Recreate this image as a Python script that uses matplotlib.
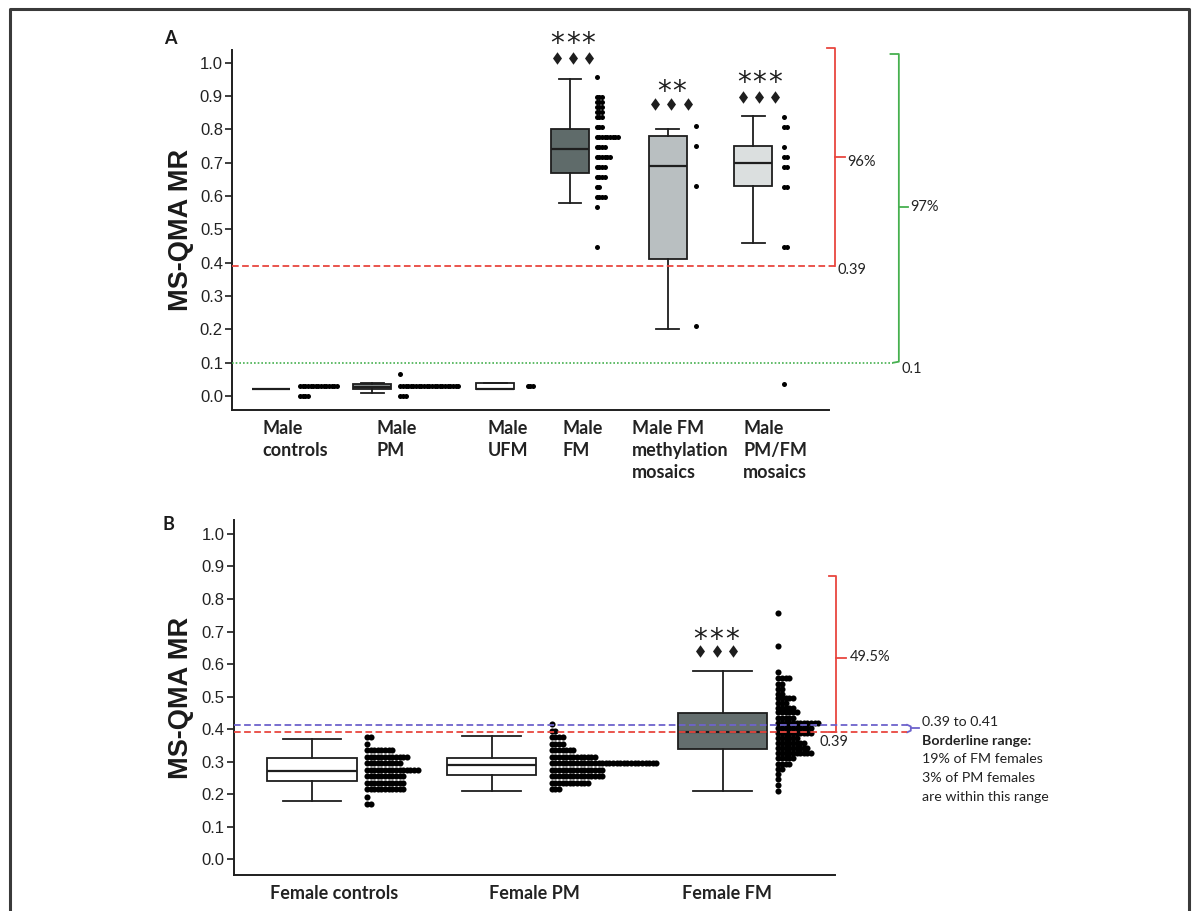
import matplotlib
matplotlib.use('Agg')
import matplotlib.pyplot as plt
import matplotlib.transforms as mtransforms
from matplotlib.lines import Line2D
import numpy as np

# ------------------------- DATA -------------------------
male_labels = ['Male\ncontrols', 'Male\nPM', 'Male\nUFM', 'Male\nFM',
               'Male FM\nmethylation\nmosaics', 'Male\nPM/FM\nmosaics']
male_q1 = [0.02, 0.02, 0.02, 0.67, 0.41, 0.63]
male_med = [0.02, 0.027, 0.02, 0.74, 0.69, 0.70]
male_q3 = [0.02, 0.035, 0.04, 0.80, 0.78, 0.75]
male_whislo = [0.02, 0.01, 0.02, 0.58, 0.20, 0.46]
male_whishi = [0.02, 0.04, 0.04, 0.95, 0.80, 0.84]
male_stars = ['', '', '', '***', '**', '***']
male_diamonds = [0, 0, 0, 3, 3, 3]

# individual samples (value rows and number of samples in each row)
m_ctrl_vals = [0.03, 0.0]
m_ctrl_counts = [15, 4]
m_pm_vals = [0.066, 0.03, 0.0]
m_pm_counts = [1, 23, 3]
m_ufm_vals = [0.03]
m_ufm_counts = [3]
m_fm_vals = [0.956, 0.898, 0.883, 0.868, 0.853, 0.838, 0.808, 0.778, 0.748,
             0.718, 0.688, 0.658, 0.628, 0.598, 0.568, 0.448]
m_fm_counts = [1, 3, 3, 3, 3, 3, 3, 9, 4, 6, 4, 4, 2, 4, 1, 1]
m_meth_vals = [0.81, 0.75, 0.63, 0.21]
m_meth_counts = [1, 1, 1, 1]
m_pmfm_vals = [0.837, 0.807, 0.748, 0.718, 0.688, 0.628, 0.447, 0.035]
m_pmfm_counts = [1, 2, 1, 2, 2, 2, 2, 1]

female_labels = ['Female controls', 'Female PM', 'Female FM']
female_q1 = [0.24, 0.26, 0.34]
female_med = [0.27, 0.29, 0.39]
female_q3 = [0.31, 0.31, 0.45]
female_whislo = [0.18, 0.21, 0.21]
female_whishi = [0.37, 0.38, 0.58]
female_stars = ['', '', '***']
female_diamonds = [0, 0, 3]

f_ctrl_vals = [0.375, 0.355, 0.335, 0.315, 0.295, 0.275, 0.255, 0.235, 0.215, 0.19, 0.17]
f_ctrl_counts = [2, 1, 8, 12, 10, 15, 11, 11, 11, 1, 2]
f_pm_vals = [0.415, 0.395, 0.375, 0.355, 0.335, 0.315, 0.295, 0.275, 0.255, 0.235, 0.215]
f_pm_counts = [1, 2, 4, 4, 7, 13, 30, 15, 15, 11, 3]
f_fm_vals = [0.756, 0.656, 0.576, 0.556, 0.538, 0.522, 0.508, 0.494, 0.479, 0.465,
             0.451, 0.435, 0.418, 0.403, 0.389, 0.372, 0.357, 0.341, 0.325, 0.310,
             0.293, 0.277, 0.262, 0.247, 0.228, 0.21]
f_fm_counts = [1, 1, 1, 4, 2, 2, 2, 5, 3, 5, 6, 5, 12, 10, 10, 6, 8, 9, 10, 5,
               4, 2, 1, 1, 1, 1]

threshold_fm = 0.39
threshold_low = 0.1
borderline_hi = 0.413
pct_male_039 = '96%'
pct_male_01 = '97%'
pct_female_039 = '49.5%'
yticks = [0.0, 0.1, 0.2, 0.3, 0.4, 0.5, 0.6, 0.7, 0.8, 0.9, 1.0]

# ------------------------- STYLE / LAYOUT -------------------------
W, H = 1197, 911
RED = '#e8463f'
GREEN = '#46b04f'
PURPLE = '#6d62cc'
INK = '#1e1e1e'
TXT = '#222222'
male_colors = ['white', '#8e9595', 'white', '#5f6b6a', '#b9bfc1', '#dbdfdf']
female_colors = ['white', 'white', '#646e6e']

male_pos = [6.5, 23.5, 44.1, 56.6, 73.0, 87.3]
male_box_w = 6.3
male_cap_w = 3.8
male_dot_x0 = [11.4, 28.2, 49.5, 61.1, 77.8, 92.5]
male_pitch = 0.44
male_label_x = [5.1, 24.2, 42.8, 55.3, 67.0, 85.6]

female_pos = [13.0, 42.9, 81.3]
female_box_w = 14.9
female_cap_w = 9.7
female_dot_x0 = [22.2, 52.9, 90.6]
female_pitch = 0.6
female_label_x = [16.7, 50.1, 82.1]

fig = plt.figure(figsize=(W / 100, H / 100), dpi=100)
fig.patch.set_facecolor('white')


def fx(px):
    return px / W


def fy(py):
    return 1 - py / H


axA = fig.add_axes([fx(232), fy(410), fx(829) - fx(232), fy(50) - fy(410)])
axB = fig.add_axes([fx(233.5), fy(875), fx(835) - fx(233.5), fy(520) - fy(875)])
axA.set_ylim(-0.042, 1.038)
axB.set_ylim(-0.049, 1.043)

for ax in (axA, axB):
    ax.set_xlim(0, 100)
    ax.set_facecolor('none')
    for s in ('top', 'right'):
        ax.spines[s].set_visible(False)
    for s in ('left', 'bottom'):
        ax.spines[s].set_linewidth(1.4)
        ax.spines[s].set_color(INK)
    ax.set_xticks([])
    ax.set_yticks(yticks)
    ax.set_yticklabels(['%.1f' % t for t in yticks], family='Liberation Sans',
                       fontsize=12, color=TXT)
    ax.tick_params(axis='y', length=5, width=1.2, pad=1.5, color=INK)


def boxes(ax, pos, q1, med, q3, lo, hi, colors, w, cw):
    stats = []
    for a, b, c, d, e in zip(q1, med, q3, lo, hi):
        stats.append(dict(q1=a, med=b, q3=c, whislo=d, whishi=e, fliers=[]))
    res = ax.bxp(stats, positions=pos, widths=w, capwidths=cw, patch_artist=True,
                 showfliers=False, manage_ticks=False,
                 boxprops=dict(linewidth=1.3, edgecolor=INK),
                 medianprops=dict(color=INK, linewidth=1.6),
                 whiskerprops=dict(color=INK, linewidth=1.3),
                 capprops=dict(color=INK, linewidth=1.3))
    for p, c in zip(res['boxes'], colors):
        p.set_facecolor(c)
    return res


boxes(axA, male_pos, male_q1, male_med, male_q3, male_whislo, male_whishi,
      male_colors, male_box_w, male_cap_w)
boxes(axB, female_pos, female_q1, female_med, female_q3, female_whislo, female_whishi,
      female_colors, female_box_w, female_cap_w)


def dots(ax, x0, pitch, vals, counts, ms):
    for v, c in zip(vals, counts):
        xs = x0 + pitch * np.arange(c)
        ax.plot(xs, np.full(c, v), 'o', ms=ms, color='black', mew=0, clip_on=False, zorder=4)


male_dot_sets = [(m_ctrl_vals, m_ctrl_counts), (m_pm_vals, m_pm_counts),
                 (m_ufm_vals, m_ufm_counts), (m_fm_vals, m_fm_counts),
                 (m_meth_vals, m_meth_counts), (m_pmfm_vals, m_pmfm_counts)]
for x0, (v, c) in zip(male_dot_x0, male_dot_sets):
    dots(axA, x0, male_pitch, v, c, 3.6)

female_dot_sets = [(f_ctrl_vals, f_ctrl_counts), (f_pm_vals, f_pm_counts),
                   (f_fm_vals, f_fm_counts)]
for x0, (v, c) in zip(female_dot_x0, female_dot_sets):
    dots(axB, x0, female_pitch, v, c, 4.4)


# significance marks: asterisks as text, diamond symbols as markers
DIAMOND = [(0, 1), (0.72, 0), (0, -1), (-0.72, 0), (0, 1)]


def stars(ax, xc, y, s, pitch, fs=20, off=0.53):
    trans = mtransforms.offset_copy(ax.transData, fig=fig, x=0, y=-off * fs, units='points')
    n = len(s)
    for i, ch in enumerate(s):
        ax.text(xc + (i - (n - 1) / 2) * pitch, y, ch, transform=trans, ha='center',
                va='baseline', fontsize=fs, family='DejaVu Sans', color=INK, clip_on=False)


def diamonds(ax, xc, y, n, pitch):
    xs = xc + (np.arange(n) - (n - 1) / 2) * pitch
    ax.plot(xs, np.full(n, y), linestyle='none', marker=DIAMOND, ms=9.0, color=INK,
            mew=0, clip_on=False, zorder=5)


male_star_y = [0, 0, 0, 1.075, 0.933, 0.958]
male_dia_y = [0, 0, 0, 1.015, 0.875, 0.898]
male_mark_x = [0, 0, 0, 57.1, 73.6, 88.3]
for s, d, xs, ys, yd in zip(male_stars, male_diamonds, male_mark_x, male_star_y, male_dia_y):
    if s:
        stars(axA, xs, ys, s, 2.6)
    if d:
        diamonds(axA, xs, yd, d, 2.7)

for s, d, xs in zip(female_stars, female_diamonds, [0, 0, 80.3]):
    if s:
        stars(axB, xs, 0.695, s, 2.65)
    if d:
        diamonds(axB, xs, 0.641, d, 2.7)

# category labels (one text per line, 22 px line pitch)
line_step_A = 22 / 333.3
for lab, x in zip(male_labels, male_label_x):
    for j, line in enumerate(lab.split('\n')):
        axA.text(x, -0.113 - j * line_step_A, line, ha='left', va='baseline',
                 family='Lato', weight='bold', fontsize=13, color=TXT, clip_on=False)
for lab, x in zip(female_labels, female_label_x):
    axB.text(x, -0.124, lab, ha='center', va='baseline', family='Lato', weight='bold',
             fontsize=13, color=TXT, clip_on=False)

# y labels and panel letters
for py in (230, 698):
    fig.text(fx(181.5), fy(py), 'MS-QMA MR', rotation=90, ha='center', va='center',
             family='Liberation Sans', weight='bold', fontsize=19.5, color='#1a1a1a')
fig.text(fx(170), fy(39), 'A', ha='center', va='center', family='Lato', weight='bold',
         fontsize=13, color='#1a1a1a')
fig.text(fx(168), fy(525), 'B', ha='center', va='center', family='Lato', weight='bold',
         fontsize=13, color='#1a1a1a')

# ---- panel A threshold lines and brackets ----
axA.plot([0, 101.0], [threshold_fm, threshold_fm], color=RED, lw=1.3,
         dashes=(3.7, 1.9), clip_on=False, zorder=3)
axA.plot([0, 110.8], [threshold_low, threshold_low], color=GREEN, lw=1.2,
         dashes=(1, 1.2), clip_on=False, zorder=3)
axA.plot([99.6, 101.0, 101.0], [1.043, 1.043, threshold_fm], color=RED, lw=1.3, clip_on=False)
axA.plot([101.0, 102.6], [0.716, 0.716], color=RED, lw=1.3, clip_on=False)
axA.plot([110.3, 111.7, 111.7, 110.8], [1.026, 1.026, 0.103, 0.1], color=GREEN, lw=1.3,
         clip_on=False)
axA.plot([111.7, 113.2], [0.568, 0.568], color=GREEN, lw=1.3, clip_on=False)
axA.text(103.0, 0.703, pct_male_039, ha='left', va='center', family='Lato', fontsize=10.5,
         color=TXT, clip_on=False)
axA.text(101.5, 0.378, str(threshold_fm), ha='left', va='center', family='Lato',
         fontsize=10.5, color=TXT, clip_on=False)
axA.text(113.6, 0.568, pct_male_01, ha='left', va='center', family='Lato', fontsize=10.5,
         color=TXT, clip_on=False)
axA.text(112.2, 0.08, str(threshold_low), ha='left', va='center', family='Lato',
         fontsize=10.5, color=TXT, clip_on=False)

# ---- panel B threshold lines and brackets ----
axB.plot([0, 112.0], [threshold_fm, threshold_fm], color=RED, lw=1.3,
         dashes=(3.7, 1.9), clip_on=False, zorder=5)
axB.plot([0, 112.0], [borderline_hi, borderline_hi], color=PURPLE, lw=1.3,
         dashes=(3.7, 1.9), clip_on=False, zorder=5)
axB.plot([99.0, 100.2, 100.2, 98.8], [0.872, 0.872, 0.392, 0.392], color=RED, lw=1.3,
         clip_on=False)
axB.plot([100.2, 101.8], [0.62, 0.62], color=RED, lw=1.3, clip_on=False)
axB.plot([112.0, 112.6, 112.6, 112.0], [0.413, 0.408, 0.395, 0.39], color=PURPLE, lw=1.3,
         clip_on=False)
axB.plot([112.6, 114.0], [0.402, 0.402], color=PURPLE, lw=1.3, clip_on=False)
axB.text(102.5, 0.622, pct_female_039, ha='left', va='center', family='Lato', fontsize=10.5,
         color=TXT, clip_on=False)
axB.text(97.4, 0.361, str(threshold_fm), ha='left', va='center', family='Lato',
         fontsize=10.5, color=TXT, clip_on=False)
border_lines = ['0.39 to 0.41', 'Borderline range:', '19% of FM females',
                '3% of PM females', 'are within this range']
for i, t in enumerate(border_lines):
    axB.text(114.5, 0.422 - i * 0.0575, t, ha='left', va='center', family='Lato',
             weight='bold' if i == 1 else 'normal', fontsize=10.2, color=TXT,
             clip_on=False)

# outer frame (top, left, right)
fig.add_artist(Line2D([fx(10), fx(10), fx(1189), fx(1189)], [0, fy(9), fy(9), 0],
                      color='#3a3a3a', lw=2.2))

fig.savefig('out.png', dpi=100)
